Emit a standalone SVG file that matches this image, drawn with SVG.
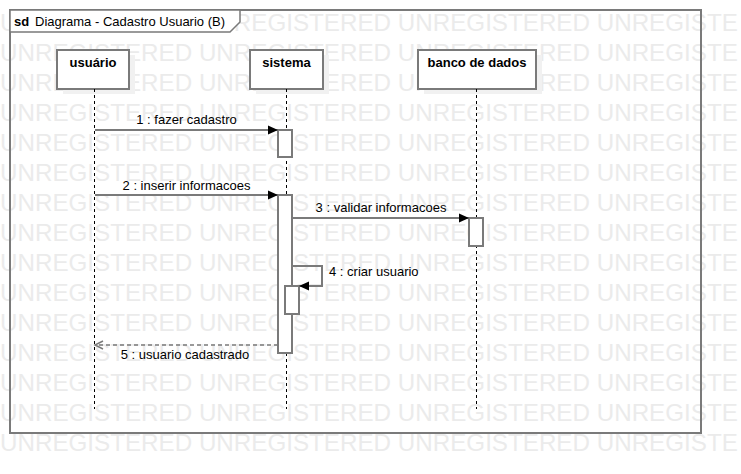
<svg xmlns="http://www.w3.org/2000/svg" width="741" height="474" viewBox="0 0 741 474">
<style>
.wm{font-family:"Liberation Sans",Arial,sans-serif;font-size:24.2px;fill:#ebebeb}
.frame{fill:none;stroke:#7a7a7a;stroke-width:2}
.tab{fill:#fff;stroke:#7a7a7a;stroke-width:1.5}
.head{fill:#fff;stroke:#7a7a7a;stroke-width:2}
.shadow{fill:#f1f1f1}
.act{fill:#fff;stroke:#7a7a7a;stroke-width:2}
.life{stroke:#000;stroke-width:1;stroke-dasharray:3 3;fill:none}
.msg{stroke:#7a7a7a;stroke-width:2;fill:none}
.ret{stroke:#7a7a7a;stroke-width:1.5;stroke-dasharray:4 3;fill:none}
.hd{font-family:"Liberation Sans",Arial,sans-serif;font-size:13px;font-weight:bold;fill:#000;text-anchor:middle}
.lbl{font-family:"Liberation Sans",Arial,sans-serif;font-size:13px;fill:#000;text-anchor:middle}
.ttl{font-family:"Liberation Sans",Arial,sans-serif;font-size:13px;fill:#000}
</style>
<defs>
<marker id="filled" markerWidth="11" markerHeight="10" refX="10" refY="5" orient="auto" markerUnits="userSpaceOnUse">
<path d="M0,0.5 L10,5 L0,9.5 Z" fill="#000"/>
</marker>
<marker id="open" markerWidth="11" markerHeight="11" refX="9" refY="5" orient="auto" markerUnits="userSpaceOnUse">
<path d="M1,1 L9,5 L1,9" fill="none" stroke="#7a7a7a" stroke-width="1.5"/>
</marker>
</defs>
<rect x="0" y="0" width="741" height="474" fill="#fff"/>
<g id="watermark" class="wm">
<text x="0" y="31">UNREGISTERED UNREGISTERED UNREGISTERED UNREGISTE</text>
<text x="0" y="61">UNREGISTERED UNREGISTERED UNREGISTERED UNREGISTE</text>
<text x="0" y="91">UNREGISTERED UNREGISTERED UNREGISTERED UNREGISTE</text>
<text x="0" y="121">UNREGISTERED UNREGISTERED UNREGISTERED UNREGISTE</text>
<text x="0" y="151">UNREGISTERED UNREGISTERED UNREGISTERED UNREGISTE</text>
<text x="0" y="181">UNREGISTERED UNREGISTERED UNREGISTERED UNREGISTE</text>
<text x="0" y="211">UNREGISTERED UNREGISTERED UNREGISTERED UNREGISTE</text>
<text x="0" y="241">UNREGISTERED UNREGISTERED UNREGISTERED UNREGISTE</text>
<text x="0" y="271">UNREGISTERED UNREGISTERED UNREGISTERED UNREGISTE</text>
<text x="0" y="301">UNREGISTERED UNREGISTERED UNREGISTERED UNREGISTE</text>
<text x="0" y="331">UNREGISTERED UNREGISTERED UNREGISTERED UNREGISTE</text>
<text x="0" y="361">UNREGISTERED UNREGISTERED UNREGISTERED UNREGISTE</text>
<text x="0" y="391">UNREGISTERED UNREGISTERED UNREGISTERED UNREGISTE</text>
<text x="0" y="421">UNREGISTERED UNREGISTERED UNREGISTERED UNREGISTE</text>
<text x="0" y="451">UNREGISTERED UNREGISTERED UNREGISTERED UNREGISTE</text>
</g>
<g id="frame">
<rect class="frame" x="10" y="10" width="691" height="423"/>
<path class="tab" d="M10,10 H240 V22 L230,32 H10 Z"/>
<text class="ttl" x="14" y="26" font-weight="bold">sd</text>
<text class="ttl" x="35" y="26">Diagrama - Cadastro Usuario (B)</text>
</g>
<g id="lifeline-usuario">
<rect class="shadow" x="63" y="55" width="72" height="39"/>
<rect class="head" x="57" y="50" width="72" height="39"/>
<text class="hd" x="93" y="67">usuário</text>
<line class="life" x1="94.5" y1="89" x2="94.5" y2="409"/>
</g>
<g id="lifeline-sistema">
<rect class="shadow" x="256" y="55" width="73" height="39"/>
<rect class="head" x="250" y="50" width="73" height="39"/>
<text class="hd" x="286.5" y="67">sistema</text>
<line class="life" x1="286.5" y1="89" x2="286.5" y2="409"/>
</g>
<g id="lifeline-banco">
<rect class="shadow" x="424" y="55" width="118" height="39"/>
<rect class="head" x="418" y="50" width="118" height="39"/>
<text class="hd" x="477" y="67">banco de dados</text>
<line class="life" x1="476.5" y1="89" x2="476.5" y2="409"/>
</g>
<g id="activations">
<rect class="act" x="278" y="130" width="14" height="27"/>
<rect class="act" x="278" y="195" width="14" height="158"/>
<rect class="act" x="469" y="218" width="14" height="28"/>
<rect class="act" x="285" y="286" width="14" height="28"/>
</g>
<g id="connectors">
<line class="msg" x1="95" y1="130" x2="278" y2="130" marker-end="url(#filled)"/>
<text class="lbl" x="186.5" y="124">1 : fazer cadastro</text>
<line class="msg" x1="95" y1="195" x2="278" y2="195" marker-end="url(#filled)"/>
<text class="lbl" x="186.5" y="190">2 : inserir informacoes</text>
<line class="msg" x1="292" y1="218" x2="469" y2="218" marker-end="url(#filled)"/>
<text class="lbl" x="381" y="212">3 : validar informacoes</text>
<path class="msg" d="M292,266 H322 V286 H299" marker-end="url(#filled)"/>
<text class="lbl" x="329" y="276" style="text-anchor:start">4 : criar usuario</text>
<line class="ret" x1="278" y1="345" x2="95" y2="345" marker-end="url(#open)"/>
<text class="lbl" x="185" y="359">5 : usuario cadastrado</text>
</g>
</svg>
